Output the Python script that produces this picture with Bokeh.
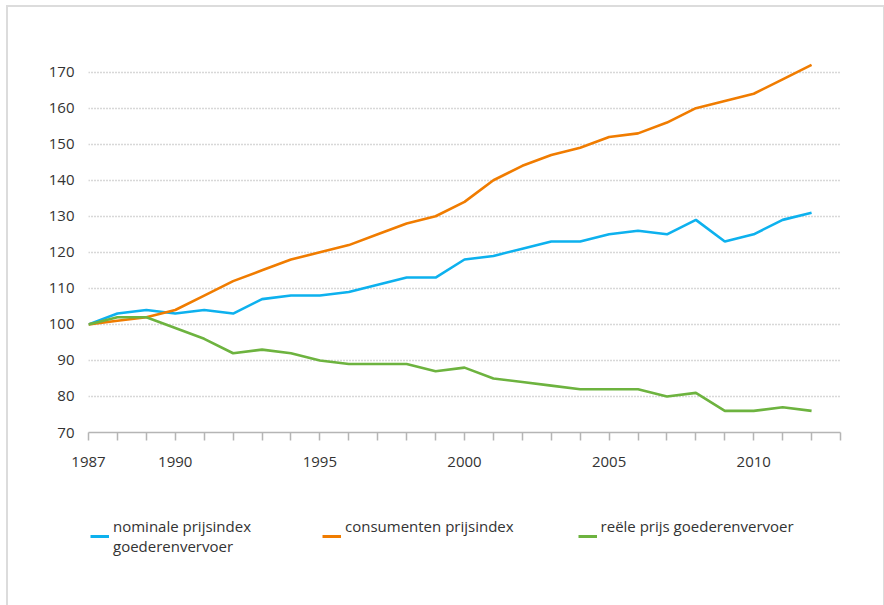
from bokeh.plotting import figure
from bokeh.layouts import column
from bokeh.models import Range1d, FixedTicker, Legend, LegendItem
from bokeh.embed import file_html
from bokeh.resources import INLINE

years = list(range(1987, 2013))
nominale = [100, 103, 104, 103, 104, 103, 107, 108, 108, 109, 111, 113, 113,
            118, 119, 121, 123, 123, 125, 126, 125, 129, 123, 125, 129, 131]
consument = [100, 101, 102, 104, 108, 112, 115, 118, 120, 122, 125, 128, 130,
             134, 140, 144, 147, 149, 152, 153, 156, 160, 162, 164, 168, 172]
reeel = [100, 102, 102, 99, 96, 92, 93, 92, 90, 89, 89, 89, 87,
         88, 85, 84, 83, 82, 82, 82, 80, 81, 76, 76, 77, 76]

x_ticks = list(range(1987, 2014))
x_labels = [1987, 1990, 1995, 2000, 2005, 2010]
y_ticks = [70, 80, 90, 100, 110, 120, 130, 140, 150, 160, 170]

names = ["nominale prijsindex\ngoederenvervoer", "consumenten prijsindex\n ",
         "reële prijs goederenvervoer\n "]
colors = ["#0db1ee", "#f07c00", "#6db33f"]

p = figure(width=875, height=470, output_backend="svg", toolbar_location=None,
           x_range=Range1d(1987, 2013), y_range=Range1d(70, 176),
           min_border_left=80, min_border_right=43, min_border_top=43,
           min_border_bottom=45)
p.outline_line_color = None
p.background_fill_color = "white"
p.border_fill_color = "white"

for ys, c in zip([nominale, consument, reeel], colors):
    p.line(years, ys, line_color=c, line_width=2.6)

# axes
p.xaxis.ticker = FixedTicker(ticks=x_ticks)
p.xaxis.major_label_overrides = {t: (str(t) if t in x_labels else "") for t in x_ticks}
p.xaxis.axis_line_color = "#b5b5b5"
p.xaxis.axis_line_width = 1.5
p.xaxis.major_tick_line_color = "#b5b5b5"
p.xaxis.major_tick_line_width = 1.5
p.xaxis.major_tick_out = 8
p.xaxis.major_tick_in = 0
p.xaxis.minor_tick_line_color = None
p.xaxis.major_label_standoff = 16
p.xaxis.major_label_text_font = "Open Sans"
p.xaxis.major_label_text_font_size = "15px"
p.xaxis.major_label_text_color = "#333333"

p.yaxis.ticker = FixedTicker(ticks=y_ticks)
p.yaxis.axis_line_color = None
p.yaxis.major_tick_line_color = None
p.yaxis.minor_tick_line_color = None
p.yaxis.major_label_standoff = 8
p.yaxis.major_label_text_font = "Open Sans"
p.yaxis.major_label_text_font_size = "15px"
p.yaxis.major_label_text_color = "#333333"

p.xgrid.grid_line_color = None
p.ygrid.ticker = FixedTicker(ticks=y_ticks[1:])
p.ygrid.grid_line_color = "#b0b0b0"
p.ygrid.grid_line_width = 1.5
p.ygrid.grid_line_dash = "1 2"

# legend strip below the chart (frame is aligned with the chart's frame)
q = figure(width=875, height=130, output_backend="svg", toolbar_location=None,
           x_range=Range1d(0, 1), y_range=Range1d(0, 1),
           min_border_left=0, min_border_right=0, min_border_top=0,
           min_border_bottom=0)
q.axis.visible = False
q.grid.visible = False
q.outline_line_color = None
q.background_fill_color = "white"
q.border_fill_color = "white"
nan = float("nan")
dummies = [q.line(x=[nan], y=[nan], line_color=c, line_width=3) for c in colors]

legend = Legend(items=[LegendItem(label=n, renderers=[r]) for n, r in zip(names, dummies)],
                orientation="horizontal", location=(2, 51),
                padding=0, margin=0, spacing=64, border_line_color=None,
                background_fill_alpha=0, glyph_width=19, glyph_height=6,
                label_width=145, label_standoff=4, label_text_font="Open Sans",
                label_text_font_size="15px", label_text_color="#333333",
                label_text_line_height=1.5)
q.add_layout(legend, "center")

layout = column(p, q, spacing=0)
layout.styles = {"margin-left": "8px", "margin-top": "7px",
                 "outline": "2px solid #dcdcdc"}

open("out.html", "w").write(file_html(layout, INLINE))
